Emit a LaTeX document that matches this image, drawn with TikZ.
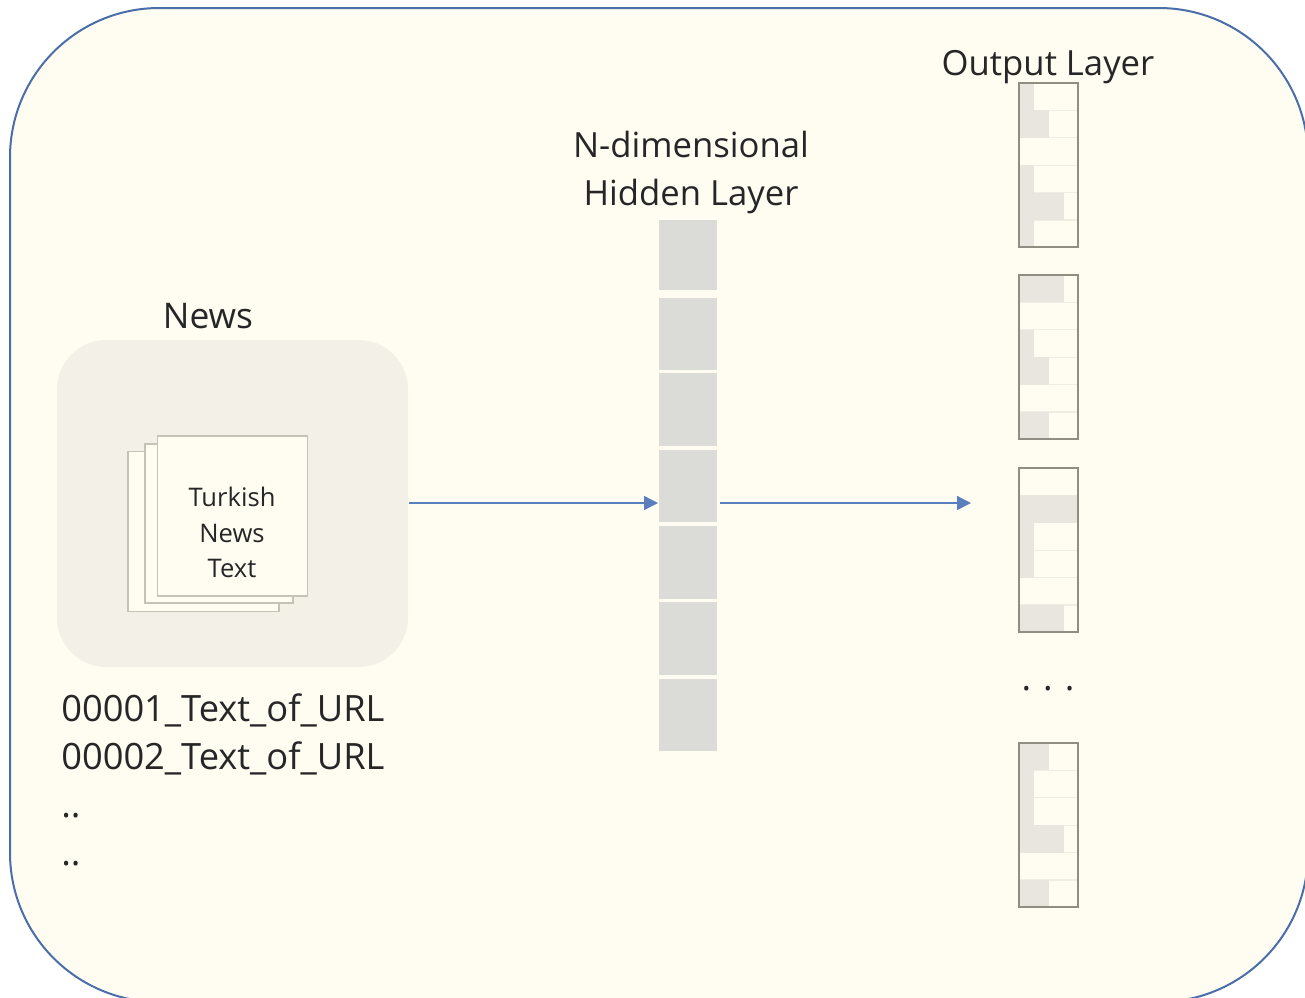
\documentclass[tikz,border=0pt]{standalone}
\usepackage{fontspec}
\setmainfont{Open Sans}
\usetikzlibrary{arrows.meta}
\definecolor{framefill}{HTML}{FFFDF2}
\definecolor{frameline}{HTML}{4A6EA9}
\definecolor{arrowline}{HTML}{5B7FBE}
\definecolor{newsfill}{HTML}{F3F0E7}
\definecolor{pageline}{HTML}{C4C3B6}
\definecolor{hiddenfill}{HTML}{DBDCD8}
\definecolor{cellfill}{HTML}{E8E6DE}
\definecolor{boxline}{HTML}{8E8E83}
\definecolor{inktext}{HTML}{262626}
\newcommand{\outbox}[3]{%
  % #1 name, #2 top y, #3 list of shaded widths
  \foreach \i in {1,...,5} {
    \draw[sepline] (1020,{#2+\i*27.4}) -- ++(58,0);
  }
  \foreach \w [count=\i from 0] in {#3} {
    \fill[cellfill] (1020,{#2+\i*27.4}) rectangle ++(\w,27.4);
  }
  \node[outframe] (#1) at (1048.5,{#2+82}) {};
}
\tikzset{
  x=0.75pt,y=-0.75pt,
  txt/.style={inner sep=0pt,text=inktext,font=\fontsize{26}{36}\selectfont,align=center},
  smalltxt/.style={inner sep=0pt,text=inktext,font=\fontsize{19.2}{26.5}\selectfont,align=center},
  listtxt/.style={inner sep=0pt,text=inktext,font=\fontsize{27.2}{36}\selectfont,align=left,anchor=north west},
  page/.style={draw=pageline,line width=1.4pt,fill=framefill},
  hcell/.style={fill=hiddenfill,minimum width=43.5pt,minimum height=54.5pt,inner sep=0pt,draw=none},
  outframe/.style={draw=boxline,line width=1.4pt,minimum width=44pt,minimum height=123.5pt,inner sep=0pt},
  sepline/.style={draw=cellfill!70!framefill,line width=0.8pt},
  conn/.style={draw=arrowline,line width=1.1pt,-{Triangle[length=10.5pt,width=10.5pt]}},
}
\begin{document}
\begin{tikzpicture}
\useasboundingbox (0,0) rectangle (1305,997);
\clip (0,0) rectangle (1305,997);
\fill[white] (0,0) rectangle (1305,997);
\draw[frameline,line width=1.5pt,fill=framefill,rounded corners=112pt] (10,8) rectangle (1308,1002);
\fill[newsfill,rounded corners=37pt] (57,340) rectangle (408,667);
\node[txt,font=\fontsize{26.5}{36}\selectfont] (newslabel) at (208,316) {News};
\node[page,minimum width=113pt,minimum height=120pt,inner sep=0pt] (p3) at (203.5,531.5) {};
\node[page,minimum width=111.5pt,minimum height=119pt,inner sep=0pt] (p2) at (219,523.5) {};
\node[page,minimum width=112.5pt,minimum height=119.5pt,inner sep=0pt] (p1) at (232.5,516) {};
\node[smalltxt,text depth=0pt] (turkish) at (232,532.5) {Turkish\\News\\Text};
\node[listtxt] (list) at (61,693) {00001\_Text\_of\_URL\\00002\_Text\_of\_URL\\..\\..};
\node[txt] (hiddenlabel) at (691,172) {N-dimensional\\Hidden Layer};
\node[hcell,minimum height=53pt] (h1) at (688,255) {};
\node[hcell] (h2) at (688,334) {};
\node[hcell] (h3) at (688,409.5) {};
\node[hcell] (h4) at (688,486) {};
\node[hcell] (h5) at (688,562.5) {};
\node[hcell] (h6) at (688,638.5) {};
\node[hcell] (h7) at (688,715) {};
\node[txt] (outlabel) at (1048,67) {Output Layer};
\outbox{o1}{83}{14,29,0,14,44,14}
\outbox{o2}{275}{44,0,14,29,0,29}
\outbox{o3}{468}{0,58,14,14,0,44}
\outbox{o4}{743}{29,14,14,44,0,29}
\node[inner sep=0pt,text=inktext,font=\fontsize{27}{30}\selectfont] (dots) at (1048,689) {.\,\,.\,\,.};
\coordinate (newsedge) at (409,503);
\coordinate (h4in) at (658,503);
\coordinate (h4out) at (720,503);
\coordinate (outend) at (971,503);
\draw[conn] (newsedge) -- (h4in);
\draw[conn] (h4out) -- (outend);
\end{tikzpicture}
\end{document}
